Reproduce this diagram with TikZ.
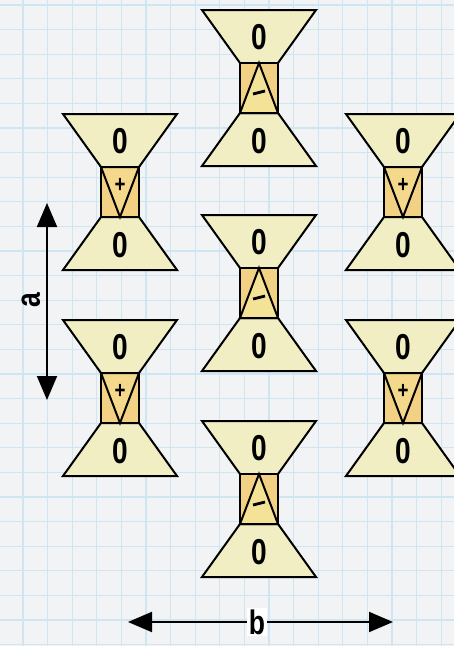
\documentclass[tikz,border=0pt]{standalone}
\usepackage{fontspec}
\newfontfamily\labfont[FakeStretch=0.78]{Liberation Sans}
\usetikzlibrary{arrows.meta}
\definecolor{paper}{RGB}{241,243,245}
\definecolor{gridc}{RGB}{208,229,242}
\definecolor{trapc}{RGB}{240,238,194}
\definecolor{boxc}{RGB}{242,208,132}
\definecolor{tripc}{RGB}{244,216,140}
\definecolor{trimc}{RGB}{244,226,150}
\tikzset{
  shapeline/.style={draw=black, line width=2pt, line join=miter},
  trap/.style={shapeline, fill=trapc},
  boxsh/.style={shapeline, fill=boxc},
  zerolab/.style={font=\labfont\bfseries\fontsize{36}{36}\selectfont, inner sep=0pt},
  signlab/.style={font=\labfont\bfseries\fontsize{24}{24}\selectfont, inner sep=0pt},
  dimarrow/.style={line width=2pt, {Triangle[length=24pt,width=20pt]}-{Triangle[length=24pt,width=20pt]}},
  dimlab/.style={font=\labfont\bfseries\fontsize{34}{34}\selectfont, inner sep=1.5pt}
}
% #1 name, #2 cx, #3 y0, #4 sign (p or m)
\newcommand\hgunit[4]{%
  \path[trap] ({#2-57},{#3}) -- ({#2+57},{#3}) -- ({#2+19},{#3+53}) -- ({#2-19},{#3+53}) -- cycle;
  \path[trap] ({#2-19},{#3+103}) -- ({#2+19},{#3+103}) -- ({#2+57},{#3+156}) -- ({#2-57},{#3+156}) -- cycle;
  \path[boxsh] ({#2-19},{#3+53}) rectangle ({#2+19},{#3+103});
  \ifx p#4
    \path[shapeline, fill=tripc] ({#2-19},{#3+53}) -- ({#2+19},{#3+53}) -- ({#2},{#3+103}) -- cycle;
    \node[signlab] (#1s) at ({#2},{#3+71}) {+};
  \else
    \path[shapeline, fill=trimc] ({#2},{#3+53}) -- ({#2+19},{#3+103}) -- ({#2-19},{#3+103}) -- cycle;
    \draw[line width=2.8pt] ({#2-6},{#3+84}) -- ({#2+6},{#3+81});
    \coordinate (#1s) at ({#2},{#3+82});
  \fi
  \node[zerolab] (#1t) at ({#2},{#3+27}) {0};
  \node[zerolab] (#1b) at ({#2},{#3+131}) {0};
}
\begin{document}
\begin{tikzpicture}[x=1pt,y=-1pt]
\useasboundingbox (0,0) rectangle (454,646);
\clip (0,0) rectangle (454,646);
\fill[paper] (0,0) rectangle (454,646);
\foreach \i in {0,...,18} {
  \draw[gridc, line width=1.3pt] ({23+24.6*\i},0) -- ({23+24.6*\i},646);
}
\foreach \j in {0,...,26} {
  \draw[gridc, line width=1.3pt] (0,{5+24.6*\j}) -- (454,{5+24.6*\j});
}
% units
\hgunit{L1}{120}{114}{p}
\hgunit{L2}{120}{320}{p}
\hgunit{M1}{259}{10}{m}
\hgunit{M2}{259}{215}{m}
\hgunit{M3}{259}{421}{m}
\hgunit{R1}{403}{114}{p}
\hgunit{R2}{403}{320}{p}
% dimension a
\coordinate (atop) at (47,203);
\coordinate (abot) at (47,400);
\draw[dimarrow] (atop) -- (abot);
\node[dimlab, rotate=90] (alab) at (31,300) {a};
% dimension b
\coordinate (bl) at (128,622);
\coordinate (br) at (393,622);
\draw[dimarrow] (bl) -- (br);
\node[dimlab, fill=white] (blab) at (257,622) {b};
\end{tikzpicture}
\end{document}
